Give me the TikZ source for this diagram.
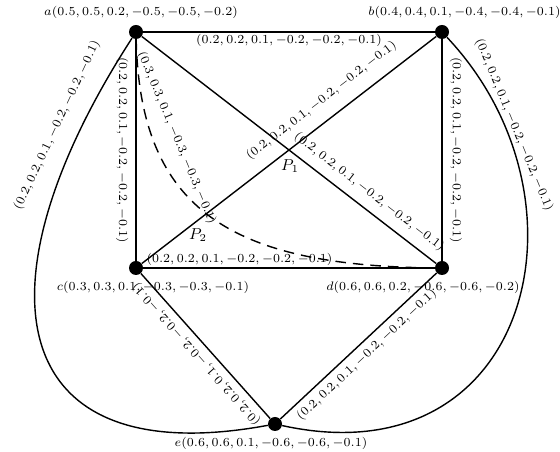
\documentclass[tikz,border=0pt]{standalone}
\usepackage{amsmath}
\usetikzlibrary{positioning}

\newcommand{\lblfont}{\fontsize{7.5}{9}\selectfont}
\newcommand{\wgt}[6]{$(#1, #2, #3, #4, #5, #6)$}
\newcommand{\wsmall}{\wgt{0.2}{0.2}{0.1}{-0.2}{-0.2}{-0.1}}

\begin{document}
\begin{tikzpicture}[
    vertex/.style={circle, fill=black, inner sep=0pt, minimum size=0.28cm},
    edge/.style={thick},
    wlabel/.style={font=\lblfont, inner sep=1pt},
    vlabel/.style={font=\lblfont},
    plabel/.style={font=\small}
  ]
  \useasboundingbox (0,0) rectangle (11.2,9.04);

  \node[vertex, label={[vlabel, xshift=0.1cm]above:$a$\wgt{0.5}{0.5}{0.2}{-0.5}{-0.5}{-0.2}}] (a) at (2.72, 8.40) {};
  \node[vertex, label={[vlabel, xshift=0.45cm]above:$b$\wgt{0.4}{0.4}{0.1}{-0.4}{-0.4}{-0.1}}] (b) at (8.84, 8.40) {};
  \node[vertex, label={[vlabel, xshift=0.34cm]below:$c$\wgt{0.3}{0.3}{0.1}{-0.3}{-0.3}{-0.1}}] (c) at (2.72, 3.68) {};
  \node[vertex, label={[vlabel, xshift=-0.38cm]below:$d$\wgt{0.6}{0.6}{0.2}{-0.6}{-0.6}{-0.2}}] (d) at (8.84, 3.68) {};
  \node[vertex, label={[vlabel, xshift=-0.08cm]below:$e$\wgt{0.6}{0.6}{0.1}{-0.6}{-0.6}{-0.1}}] (e) at (5.50, 0.56) {};

  \node[plabel] (p1) at (5.80, 5.72) {$P_1$};
  \node[plabel] (p2) at (3.96, 4.34) {$P_2$};

  % square and diagonals
  \draw[edge] (a) -- node[wlabel, below] {\wsmall} (b);
  \draw[edge] (c) -- node[wlabel, pos=0.33, above] {\wsmall} (d);
  \draw[edge] (a) -- node[wlabel, sloped, below=3pt] {\wsmall} (c);
  \draw[edge] (b) -- node[wlabel, sloped, above=3pt] {\wsmall} (d);
  \draw[edge] (a) -- node[wlabel, pos=0.74, sloped, above=4pt] {\wsmall} (d);
  \draw[edge] (c) -- node[wlabel, pos=0.65, sloped, above=6pt] {\wsmall} (b);

  % lower triangle
  \draw[edge] (e) -- node[wlabel, sloped, allow upside down, above=2pt] {\wsmall} (c);
  \draw[edge] (e) -- node[wlabel, sloped, below=2pt] {\wsmall} (d);

  % outer curves
  \draw[edge] (a) .. controls +(-3.3,-5.1) and +(-5.4,-1.0) .. (e)
    node[wlabel, pos=0.135, sloped, above=8pt] {\wsmall};
  \draw[edge] (b) .. controls +(3.16,-3.36) and +(5.1,-1.12) .. (e)
    node[wlabel, pos=0.17, sloped, above] {\wsmall};

  % dashed path
  \draw[edge, dash pattern=on 6pt off 4pt] (a) .. controls +(0.08,-3.56) and +(-4.22,0.04) .. (d)
    node[wlabel, pos=0.25, sloped, above=8pt] {\wgt{0.3}{0.3}{0.1}{-0.3}{-0.3}{-0.1}};
\end{tikzpicture}
\end{document}
